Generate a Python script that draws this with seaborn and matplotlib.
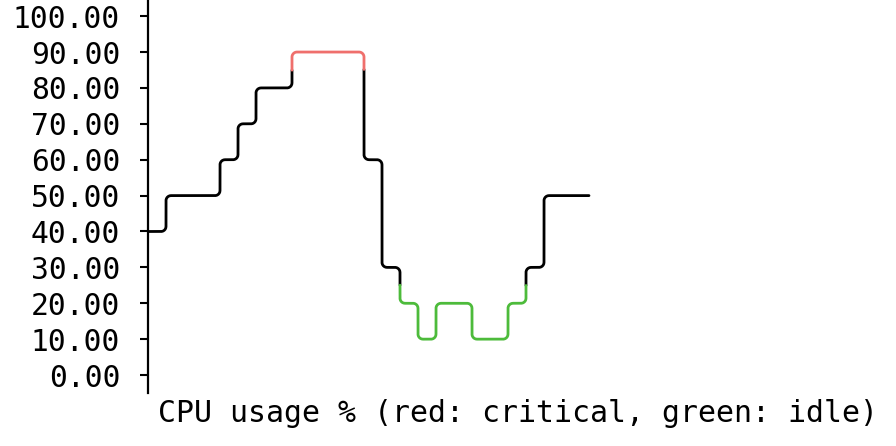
import numpy as np
import pandas as pd
import matplotlib
matplotlib.use("Agg")
import matplotlib.pyplot as plt
import seaborn as sns

sns.set_theme(style="white")
plt.rcParams['font.family'] = ['DejaVu Sans Mono', 'DejaVu Sans']

# cpu usage samples, one per text column
cpu = [40, 50, 50, 50, 60, 70, 80, 80, 90, 90, 90, 90, 60, 30,
       20, 10, 20, 20, 10, 10, 20, 30, 50, 50, 50]
yticks = [0, 10, 20, 30, 40, 50, 60, 70, 80, 90, 100]
critical = 85   # red at or above
idle = 25       # green at or below
label = "CPU usage % (red: critical, green: idle)"

W, H = 896, 446
fig = plt.figure(figsize=(W / 100, H / 100), dpi=100)
ax = fig.add_axes([148 / W, 1 - 393 / H, 1 - 148 / W, 393 / H])
col_px = 18.0
ax.set_xlim(-0.5, -0.5 + (W - 148) / col_px)
ax.set_ylim(-5, 104.5)
unit_px = 393 / (104.5 + 5)

# step path with little rounded corners (radius in pixels)
r = 5.0
rx, ry = r / col_px, r / unit_px
t = np.linspace(0, np.pi / 2, 12)
xs, ys = [-0.5], [cpu[0]]
for i in range(len(cpu) - 1):
    y0, y1 = cpu[i], cpu[i + 1]
    xm = i + 0.5
    if y0 == y1:
        continue
    d = np.sign(y1 - y0)
    xs += list(xm - rx + rx * np.sin(t))
    ys += list(y0 + d * ry * (1 - np.cos(t)))
    vy = np.linspace(y0 + d * ry, y1 - d * ry, 80)
    xs += [xm] * len(vy)
    ys += list(vy)
    xs += list(xm + rx * (1 - np.cos(t)))
    ys += list(y1 - d * ry * (1 - np.sin(t)))
xs.append(len(cpu) - 1)
ys.append(cpu[-1])

# split into runs by state, sharing the boundary point
def state(v):
    if v >= critical:
        return "critical"
    if v <= idle:
        return "idle"
    return "normal"

rows = []
run = 0
prev = state(ys[0])
for k, (x, y) in enumerate(zip(xs, ys)):
    s = state(y)
    if s != prev:
        rows.append((xs[k - 1], ys[k - 1], s, run + 1))
        run += 1
        prev = s
    rows.append((x, y, s, run))
df = pd.DataFrame(rows, columns=["x", "y", "state", "run"])

palette = {"normal": "black", "critical": "#ef6f6c", "idle": "#4dbb3b"}
sns.lineplot(data=df, x="x", y="y", hue="state", units="run",
             estimator=None, sort=False, palette=palette, linewidth=2.0,
             legend=False, ax=ax)

ax.set_yticks(yticks)
ax.set_yticklabels([f"{v:.2f}" for v in yticks])
ax.set_xticks([])
ax.set_xlabel("")
ax.set_ylabel("")
ax.tick_params(axis="y", left=True, length=6, width=1.5, pad=14,
               labelsize=21.3, colors="black")
for s in ["top", "right", "bottom"]:
    ax.spines[s].set_visible(False)
ax.spines["left"].set_linewidth(1.6)
ax.spines["left"].set_color("black")
ax.set_facecolor("white")

fig.text(158 / W, 1 - 422 / H, label, fontsize=21.5, va="baseline",
         ha="left", color="black")

fig.savefig("out.png", dpi=100, facecolor="white")
